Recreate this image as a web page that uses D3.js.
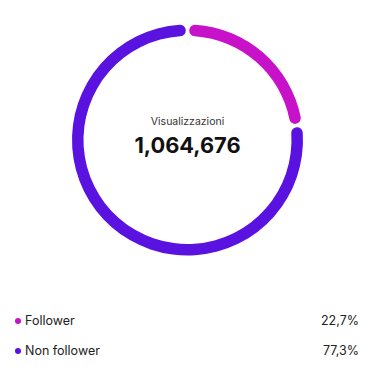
<!DOCTYPE html>
<html><head><meta charset="utf-8">
<script src="https://cdn.jsdelivr.net/npm/d3@7"></script>
<style>html,body{margin:0;padding:0;background:#fff;}svg{display:block;}</style>
</head><body>
<script>
const categories = ["Follower", "Non follower"];
const values = [22.7, 77.3];
const labels = ["22,7%", "77,3%"];
const colors = ["#C812C9", "#5A12E0"];
const centerTitle = "Visualizzazioni";
const centerValue = "1,064,676";

const W = 375, H = 367;
const svg = d3.select("body").append("svg").attr("width", W).attr("height", H);
const font = "'Inter', 'Roboto', sans-serif";

const cx = 187.5, cy = 140, rOuter = 115.5, rInner = 104;
const pie = d3.pie().sort(null).value(d => d).padAngle(0.022);
const arc = d3.arc().innerRadius(rInner).outerRadius(rOuter).cornerRadius(5.7);

const g = svg.append("g").attr("transform", `translate(${cx},${cy})`);
g.selectAll("path").data(pie(values)).join("path")
  .attr("d", arc).attr("fill", (d, i) => colors[i]);

g.append("text").attr("x", 0).attr("y", -15).attr("text-anchor", "middle")
  .attr("font-family", font).attr("font-size", 10.5).attr("fill", "#333")
  .text(centerTitle);
g.append("text").attr("x", 0).attr("y", 12.5).attr("text-anchor", "middle")
  .attr("font-family", font).attr("font-size", 21.8).attr("font-weight", 700).attr("fill", "#111")
  .text(centerValue);

const ly = d3.scalePoint().domain(categories).range([321, 351]);
const leg = svg.selectAll("g.leg").data(categories).join("g").attr("class", "leg")
  .attr("transform", d => `translate(0,${ly(d)})`);
leg.append("circle").attr("cx", 18).attr("cy", 0).attr("r", 3).attr("fill", (d, i) => colors[i]);
leg.append("text").attr("x", 25).attr("y", 0).attr("dy", "0.35em")
  .attr("font-family", font).attr("font-size", 12.5).attr("fill", "#222").text(d => d);
leg.append("text").attr("x", 359).attr("y", 0).attr("dy", "0.35em").attr("text-anchor", "end")
  .attr("font-family", font).attr("font-size", 12.5).attr("fill", "#222").text((d, i) => labels[i]);
</script>
</body></html>
